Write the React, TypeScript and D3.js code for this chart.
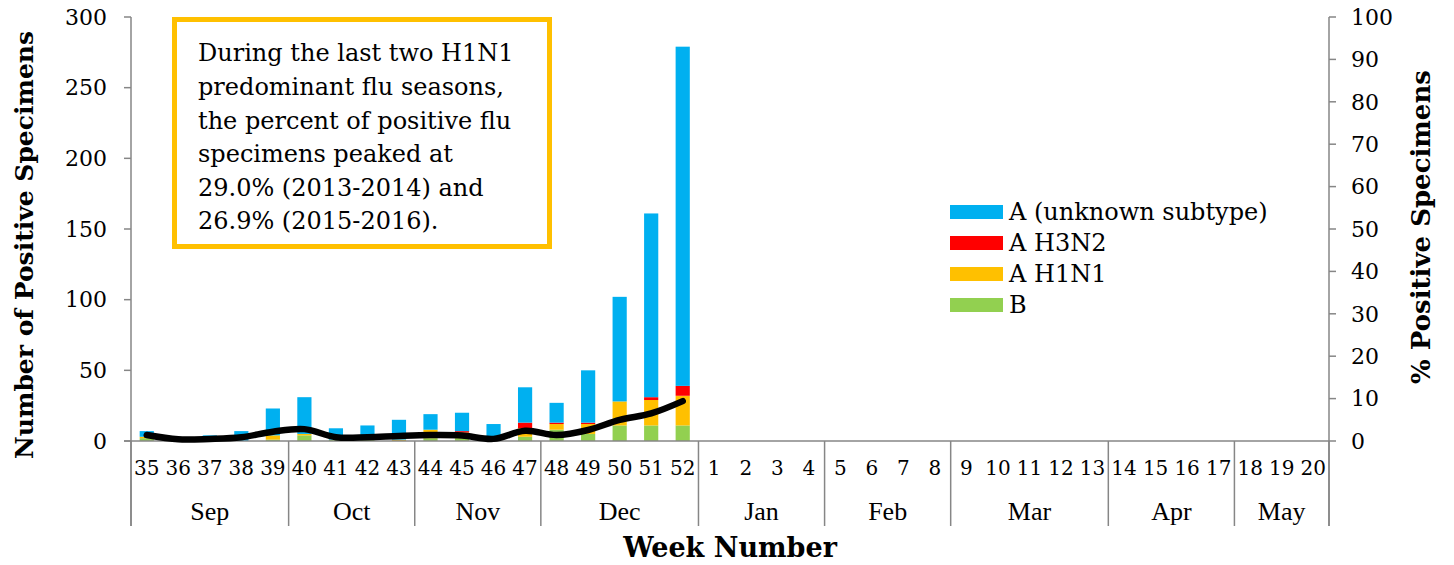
import React from "react";
import * as d3 from "d3";

const weeks = ["35","36","37","38","39","40","41","42","43","44","45","46","47","48","49","50","51","52","1","2","3","4","5","6","7","8","9","10","11","12","13","14","15","16","17","18","19","20"];
const months = ["Sep","Oct","Nov","Dec","Jan","Feb","Mar","Apr","May"];
const monthWeekCounts = [5,4,4,5,4,4,5,4,3];

const aUnknown = [4,0,4,7,19,26,8,10,14,11,13,9,25,14,37,74,130,240];
const aH3N2 =    [0,0,0,0,0,0,0,0,0,0,1,0,4,1,1,0,2,7];
const aH1N1 =    [1,0,0,0,3,1,0,0,1,6,4,2,6,4,7,17,18,21];
const bVals =    [2,0,0,0,1,4,1,1,0,2,2,1,3,8,5,11,11,11];
const pctPositive = [1.4,0.4,0.5,0.9,2.2,2.8,0.9,0.9,1.2,1.4,1.3,0.5,2.4,1.4,2.6,5.0,6.5,9.4];

const leftTicks = [0,50,100,150,200,250,300];
const rightTicks = [0,10,20,30,40,50,60,70,80,90,100];

const seriesNames = ["A (unknown subtype)","A H3N2","A H1N1","B"];
const seriesColors = ["#00B0F0","#FF0000","#FFC000","#92D050"];

const noteLines = [
  "During the last two H1N1",
  "predominant flu seasons,",
  "the percent of positive flu",
  "specimens peaked at",
  "29.0% (2013-2014) and",
  "26.9% (2015-2016).",
];

const W = 1454, H = 565;
const M = { left: 131, right: 1329, top: 17, bottom: 441 };
const FONT = "'DejaVu Serif', Georgia, serif";
const MFONT = "'Liberation Serif', 'Times New Roman', serif";
const AX = "#868686";

export default function App() {
  const x = d3.scaleBand<string>().domain(weeks).range([M.left, M.right]).paddingInner(0.55).paddingOuter(0.275);
  const step = x.step();
  const yL = d3.scaleLinear().domain([0, 300]).range([M.bottom, M.top]);
  const yR = d3.scaleLinear().domain([0, 100]).range([M.bottom, M.top]);

  const rows = weeks.map((w, i) => ({
    week: w,
    B: bVals[i] ?? 0,
    H1N1: aH1N1[i] ?? 0,
    H3N2: aH3N2[i] ?? 0,
    Unknown: aUnknown[i] ?? 0,
  }));
  const keys = ["B", "H1N1", "H3N2", "Unknown"];
  const keyColor: Record<string, string> = { B: "#92D050", H1N1: "#FFC000", H3N2: "#FF0000", Unknown: "#00B0F0" };
  const stacked = d3.stack<any>().keys(keys)(rows);

  const linePts = pctPositive.map((p, i) => [ (x(weeks[i]) as number) + x.bandwidth() / 2, yR(p) ] as [number, number]);
  const lineGen = d3.line().curve(d3.curveCatmullRom.alpha(0.5));

  const bounds: number[] = [M.left];
  let acc = 0;
  monthWeekCounts.forEach((c) => { acc += c; bounds.push(M.left + acc * step); });

  return (
    <svg width={W} height={H} style={{ position: "absolute", left: 0, top: 0, display: "block", background: "#fff" }}>
      {stacked.map((layer) => (
        <g key={layer.key} fill={keyColor[layer.key]}>
          {layer.map((d, i) => {
            const h = yL(d[0]) - yL(d[1]);
            if (h <= 0) return null;
            return <rect key={i} x={x(weeks[i])} y={yL(d[1])} width={x.bandwidth()} height={h} />;
          })}
        </g>
      ))}

      <line x1={M.left} x2={M.left} y1={M.top} y2={526} stroke={AX} strokeWidth={1.5} />
      <line x1={M.right} x2={M.right} y1={M.top} y2={526} stroke={AX} strokeWidth={1.5} />
      <line x1={M.left - 7} x2={M.right} y1={M.bottom} y2={M.bottom} stroke={AX} strokeWidth={1.5} />
      {leftTicks.map((t) => (
        <g key={"l" + t}>
          <line x1={M.left - 7} x2={M.left} y1={yL(t)} y2={yL(t)} stroke={AX} strokeWidth={1.5} />
          <text x={107} y={yL(t)} dy="0.35em" textAnchor="end" fontFamily={FONT} fontSize={22} fill="#000">{t}</text>
        </g>
      ))}
      {rightTicks.map((t) => (
        <g key={"r" + t}>
          <line x1={M.right} x2={M.right + 7} y1={yR(t)} y2={yR(t)} stroke={AX} strokeWidth={1.5} />
          <text x={1351} y={yR(t)} dy="0.35em" textAnchor="start" fontFamily={FONT} fontSize={22} fill="#000">{t}</text>
        </g>
      ))}

      {bounds.map((b, i) => (
        <line key={"b" + i} x1={b} x2={b} y1={M.bottom} y2={526} stroke={AX} strokeWidth={1.5} />
      ))}
      {weeks.map((w) => (
        <text key={"w" + w} x={(x(w) as number) + x.bandwidth() / 2} y={468} dy="0.35em" textAnchor="middle" fontFamily={FONT} fontSize={20} fill="#000">{w}</text>
      ))}
      {months.map((m, i) => (
        <text key={m} x={(bounds[i] + bounds[i + 1]) / 2} y={511} dy="0.35em" textAnchor="middle" fontFamily={MFONT} fontSize={26} fill="#000">{m}</text>
      ))}

      <path d={lineGen(linePts) || ""} fill="none" stroke="#000" strokeWidth={6.5} strokeLinecap="round" strokeLinejoin="round" />

      <text transform={`translate(24,${245}) rotate(-90)`} dy="0.35em" textAnchor="middle" fontFamily={FONT} fontWeight="bold" fontSize={25} fill="#000">Number of Positive Specimens</text>
      <text transform={`translate(1421,${227}) rotate(-90)`} dy="0.35em" textAnchor="middle" fontFamily={FONT} fontWeight="bold" fontSize={26} fill="#000">% Positive Specimens</text>
      <text x={730} y={548} dy="0.35em" textAnchor="middle" fontFamily={FONT} fontWeight="bold" fontSize={27} fill="#000">Week Number</text>

      {seriesNames.map((n, i) => (
        <g key={n} transform={`translate(950,${212 + i * 31})`}>
          <rect x={0} y={-7} width={53} height={14} fill={seriesColors[i]} />
          <text x={59} y={0} dy="0.35em" fontFamily={FONT} fontSize={24} fill="#000">{n}</text>
        </g>
      ))}

      <rect x={174.5} y={19.5} width={375} height={227} fill="#fff" stroke="#FFC000" strokeWidth={5} />
      {noteLines.map((l, i) => (
        <text key={i} x={198} y={53 + i * 33.6} dy="0.35em" fontFamily={FONT} fontSize={24} fill="#000">{l}</text>
      ))}
    </svg>
  );
}
